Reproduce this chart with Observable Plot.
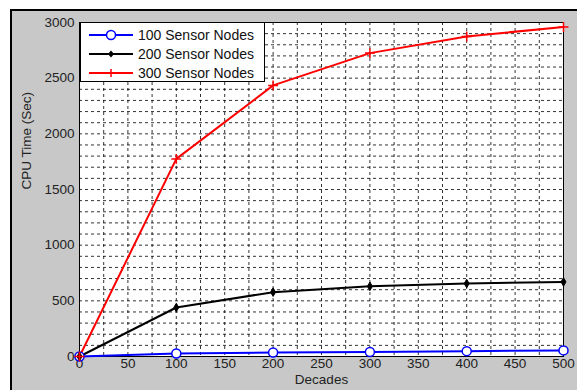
<!DOCTYPE html>
<html>
<head>
<meta charset="utf-8">
<script src="https://cdn.jsdelivr.net/npm/d3@7"></script>
<script src="https://cdn.jsdelivr.net/npm/@observablehq/plot@0.6"></script>
<style>
  html, body { margin: 0; padding: 0; background: #fff; }
  #wrap { position: relative; width: 577px; height: 390px; overflow: hidden; font-family: "Liberation Sans", Arial, sans-serif; }
  #bg { position: absolute; left: 10px; top: 9px; width: 567px; height: 381px; box-sizing: border-box; background: #c8c8c8; border-left: 2px solid #000; border-top: 2px solid #000; }
  #chart { position: absolute; left: 0; top: 0; }
  #legend { position: absolute; left: 80px; top: 22px; width: 185px; height: 60px; box-sizing: border-box; background: #fff; border: 1px solid #000; }
  .row { position: absolute; left: 0; height: 18px; display: flex; align-items: center; font-size: 14px; color: #111; }
  .row svg { margin-left: 8px; margin-right: 5px; }
</style>
</head>
<body>
<div id="wrap">
  <div id="bg"></div>
  <div id="chart"></div>
  <div id="legend"></div>
</div>
<script>
const decades = [0, 100, 200, 300, 400, 500];
const nodes100 = [0, 27, 36, 40, 48, 55];
const nodes200 = [0, 440, 578, 630, 655, 670];
const nodes300 = [0, 1775, 2435, 2725, 2875, 2960];
const seriesNames = ["100 Sensor Nodes", "200 Sensor Nodes", "300 Sensor Nodes"];
const seriesColors = ["#0000ff", "#000000", "#ff0000"];
const xTicks = [0, 50, 100, 150, 200, 250, 300, 350, 400, 450, 500];
const yTicks = [0, 500, 1000, 1500, 2000, 2500, 3000];
const xLabel = "Decades";
const yLabel = "CPU Time (Sec)";

const toRows = (vals, s) => decades.map((d, i) => ({x: d, y: vals[i], s}));
const d100 = toRows(nodes100, seriesNames[0]);
const d200 = toRows(nodes200, seriesNames[1]);
const d300 = toRows(nodes300, seriesNames[2]);

const xGrid = d3.range(0, 501, 25);
const yGrid = d3.range(0, 3001, 100);

const font = "Liberation Sans, Arial, sans-serif";

const chart = Plot.plot({
  width: 577,
  height: 390,
  marginLeft: 79,
  marginRight: 14,
  marginTop: 22,
  marginBottom: 34,
  style: {background: "transparent", fontFamily: font, fontSize: "13.5px", color: "#222", overflow: "visible"},
  x: {domain: [0, 500]},
  y: {domain: [0, 3000]},
  marks: [
    Plot.frame({fill: "#fff"}),
    Plot.ruleX(xGrid, {stroke: "#000", strokeWidth: 1, strokeDasharray: "3,3", strokeOpacity: 0.8}),
    Plot.ruleY(yGrid, {stroke: "#000", strokeWidth: 1, strokeDasharray: "3,3", strokeOpacity: 0.8}),
    Plot.frame({stroke: "#000", strokeWidth: 1}),
    Plot.axisX({ticks: xTicks, tickSize: 0, tickPadding: 2, tickFormat: d => String(d), label: null, fontSize: 13.5, fill: "#222"}),
    Plot.axisY({ticks: yTicks, tickSize: 0, tickPadding: 5, tickFormat: d => String(d), label: null, fontSize: 13.5, fill: "#222"}),
    Plot.text([xLabel], {frameAnchor: "bottom", dy: 27, fontSize: 13.5, fill: "#222"}),
    Plot.text([yLabel], {frameAnchor: "left", dx: -53, rotate: -90, fontSize: 13.5, fill: "#222"}),
    Plot.line(d100, {x: "x", y: "y", stroke: seriesColors[0], strokeWidth: 2}),
    Plot.line(d200, {x: "x", y: "y", stroke: seriesColors[1], strokeWidth: 2}),
    Plot.line(d300, {x: "x", y: "y", stroke: seriesColors[2], strokeWidth: 2}),
    Plot.dot(d100, {x: "x", y: "y", r: 4.5, fill: "#fff", stroke: seriesColors[0], strokeWidth: 1.5}),
    Plot.dot(d200, {x: "x", y: "y", r: 2.6, symbol: "diamond", fill: seriesColors[1], stroke: seriesColors[1], strokeWidth: 1}),
    Plot.dot(d300, {x: "x", y: "y", r: 3.3, symbol: "plus", stroke: seriesColors[2], strokeWidth: 1.5})
  ]
});
document.getElementById("chart").appendChild(chart);

// Legend
const legend = document.getElementById("legend");
const markers = [
  '<circle cx="22" cy="9" r="4.5" fill="#fff" stroke="#0000ff" stroke-width="1.5"/>',
  '<path d="M22 5.5 L25 9 L22 12.5 L19 9 Z" fill="#000"/>',
  '<path d="M22 5 V13 M18 9 H26" stroke="#ff0000" stroke-width="1.5"/>'
];
seriesNames.forEach((name, i) => {
  const row = document.createElement("div");
  row.className = "row";
  row.style.top = (3 + i * 19) + "px";
  row.innerHTML = `<svg width="44" height="18"><line x1="0" y1="9" x2="44" y2="9" stroke="${seriesColors[i]}" stroke-width="2"/>${markers[i]}</svg><span>${name}</span>`;
  legend.appendChild(row);
});
</script>
</body>
</html>
